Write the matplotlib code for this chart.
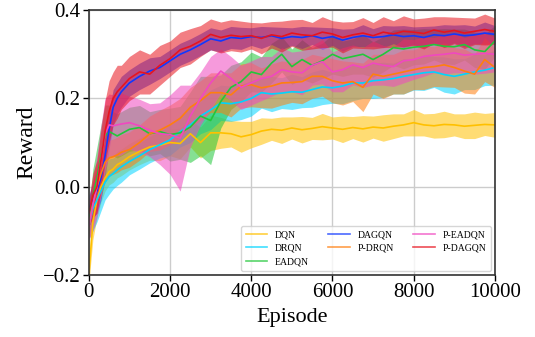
import numpy as np
import matplotlib
matplotlib.use('Agg')
import matplotlib.pyplot as plt

plt.rcParams['font.family'] = ['Liberation Serif', 'DejaVu Serif']
plt.rcParams['mathtext.fontset'] = 'stix'

# episodios donde se leyeron los valores
episodes = [0, 100, 200, 300, 400, 500, 600, 700, 800,
            1000, 1250, 1500, 1750, 2000, 2250, 2500, 2750, 3000, 3250,
            3500, 3750, 4000, 4250, 4500, 4750, 5000, 5250, 5500, 5750,
            6000, 6250, 6500, 6750, 7000, 7250, 7500, 7750, 8000, 8250,
            8500, 8750, 9000, 9250, 9500, 9750, 10000]

# recompensa media de cada metodo
dqn = [-0.2, -0.08, -0.03, 0.0, 0.02, 0.034, 0.04, 0.05, 0.055,
       0.068, 0.08, 0.09, 0.094, 0.1, 0.098, 0.12, 0.1, 0.122, 0.122,
       0.12, 0.113, 0.118, 0.126, 0.13, 0.128, 0.133, 0.129, 0.132, 0.136,
       0.133, 0.13, 0.134, 0.131, 0.135, 0.133, 0.137, 0.14, 0.145, 0.14,
       0.138, 0.141, 0.14, 0.137, 0.139, 0.141, 0.14]
drqn = [-0.09, -0.05, -0.03, -0.01, 0.01, 0.023, 0.03, 0.038, 0.045,
        0.057, 0.07, 0.084, 0.095, 0.106, 0.125, 0.14, 0.16, 0.174, 0.19,
        0.188, 0.192, 0.2, 0.213, 0.21, 0.212, 0.215, 0.214, 0.22, 0.226,
        0.224, 0.228, 0.235, 0.235, 0.24, 0.242, 0.245, 0.25, 0.254, 0.258,
        0.26, 0.254, 0.25, 0.255, 0.26, 0.264, 0.27]
eadqn = [-0.08, -0.02, 0.02, 0.07, 0.115, 0.125, 0.12, 0.115, 0.12,
         0.13, 0.134, 0.12, 0.125, 0.118, 0.122, 0.135, 0.16, 0.15, 0.193,
         0.225, 0.238, 0.26, 0.254, 0.28, 0.3, 0.272, 0.288, 0.275, 0.285,
         0.3, 0.29, 0.295, 0.3, 0.288, 0.3, 0.315, 0.312, 0.316, 0.318,
         0.322, 0.318, 0.317, 0.322, 0.31, 0.306, 0.33]
dagqn = [-0.05, -0.03, -0.01, 0.02, 0.07, 0.13, 0.18, 0.2, 0.215,
         0.235, 0.25, 0.262, 0.27, 0.285, 0.3, 0.31, 0.322, 0.335, 0.33,
         0.338, 0.336, 0.34, 0.338, 0.342, 0.336, 0.34, 0.338, 0.342, 0.336,
         0.34, 0.332, 0.338, 0.342, 0.338, 0.34, 0.344, 0.34, 0.342, 0.338,
         0.344, 0.342, 0.346, 0.342, 0.344, 0.348, 0.345]
p_drqn = [-0.09, -0.04, 0.0, 0.03, 0.055, 0.065, 0.068, 0.072, 0.078,
          0.084, 0.1, 0.12, 0.128, 0.14, 0.155, 0.18, 0.195, 0.213, 0.213,
          0.208, 0.228, 0.231, 0.224, 0.228, 0.235, 0.236, 0.238, 0.25, 0.25,
          0.24, 0.235, 0.238, 0.225, 0.255, 0.25, 0.255, 0.26, 0.265, 0.27,
          0.272, 0.276, 0.27, 0.262, 0.255, 0.288, 0.27]
p_eadqn = [-0.09, -0.04, 0.0, 0.06, 0.12, 0.14, 0.138, 0.14, 0.142,
           0.145, 0.138, 0.128, 0.12, 0.118, 0.11, 0.16, 0.2, 0.235, 0.262,
           0.245, 0.225, 0.235, 0.245, 0.25, 0.265, 0.26, 0.258, 0.275, 0.283,
           0.26, 0.265, 0.276, 0.27, 0.28, 0.275, 0.272, 0.285, 0.288, 0.295,
           0.298, 0.3, 0.303, 0.298, 0.3, 0.302, 0.3]
p_dagqn = [-0.06, -0.02, 0.0, 0.06, 0.125, 0.17, 0.2, 0.215, 0.225,
           0.245, 0.26, 0.255, 0.275, 0.29, 0.31, 0.318, 0.33, 0.345, 0.338,
           0.343, 0.34, 0.342, 0.336, 0.344, 0.34, 0.348, 0.344, 0.342, 0.35,
           0.346, 0.338, 0.344, 0.348, 0.342, 0.35, 0.346, 0.352, 0.35, 0.347,
           0.355, 0.35, 0.354, 0.348, 0.352, 0.356, 0.352]

# ancho de la banda sombreada (desviacion)
dqn_sd = [0.02, 0.04, 0.04, 0.035, 0.03, 0.03, 0.03, 0.03, 0.03,
          0.03, 0.03, 0.03, 0.035, 0.03, 0.035, 0.03, 0.035, 0.04, 0.035,
          0.03, 0.035, 0.03, 0.03, 0.025, 0.03, 0.025, 0.03, 0.025, 0.03,
          0.025, 0.03, 0.025, 0.03, 0.025, 0.03, 0.028, 0.025, 0.03, 0.025,
          0.028, 0.03, 0.025, 0.028, 0.03, 0.025, 0.028]
drqn_sd = [0.03, 0.05, 0.05, 0.045, 0.04, 0.04, 0.035, 0.035, 0.035,
           0.03, 0.03, 0.03, 0.03, 0.035, 0.035, 0.04, 0.04, 0.045, 0.04,
           0.04, 0.04, 0.04, 0.035, 0.04, 0.035, 0.04, 0.035, 0.04, 0.04,
           0.035, 0.04, 0.04, 0.035, 0.04, 0.04, 0.035, 0.04, 0.035, 0.04,
           0.035, 0.04, 0.04, 0.035, 0.04, 0.035, 0.04]
eadqn_sd = [0.03, 0.06, 0.07, 0.07, 0.07, 0.06, 0.05, 0.05, 0.05,
            0.05, 0.05, 0.05, 0.05, 0.06, 0.06, 0.08, 0.09, 0.1, 0.06,
            0.05, 0.045, 0.045, 0.04, 0.045, 0.04, 0.04, 0.045, 0.04, 0.04,
            0.045, 0.04, 0.04, 0.045, 0.04, 0.04, 0.04, 0.045, 0.04, 0.04,
            0.035, 0.04, 0.04, 0.035, 0.04, 0.04, 0.035]
dagqn_sd = [0.03, 0.04, 0.05, 0.05, 0.05, 0.045, 0.04, 0.035, 0.035,
            0.03, 0.03, 0.03, 0.025, 0.025, 0.025, 0.025, 0.025, 0.025, 0.025,
            0.025, 0.025, 0.02, 0.025, 0.02, 0.025, 0.02, 0.025, 0.02, 0.025,
            0.02, 0.025, 0.02, 0.025, 0.02, 0.025, 0.02, 0.025, 0.02, 0.025,
            0.02, 0.025, 0.02, 0.025, 0.02, 0.025, 0.02]
p_drqn_sd = [0.03, 0.05, 0.05, 0.05, 0.045, 0.04, 0.04, 0.04, 0.04,
             0.04, 0.04, 0.04, 0.045, 0.045, 0.045, 0.045, 0.045, 0.045, 0.045,
             0.05, 0.05, 0.05, 0.045, 0.05, 0.05, 0.045, 0.05, 0.05, 0.045,
             0.05, 0.05, 0.045, 0.055, 0.045, 0.05, 0.045, 0.05, 0.045, 0.05,
             0.045, 0.05, 0.045, 0.05, 0.045, 0.05, 0.045]
p_eadqn_sd = [0.03, 0.06, 0.07, 0.08, 0.08, 0.07, 0.07, 0.07, 0.07,
              0.06, 0.06, 0.06, 0.07, 0.09, 0.12, 0.07, 0.06, 0.06, 0.05,
              0.05, 0.05, 0.05, 0.05, 0.045, 0.05, 0.045, 0.05, 0.045, 0.05,
              0.045, 0.05, 0.045, 0.045, 0.05, 0.045, 0.045, 0.05, 0.045, 0.045,
              0.04, 0.045, 0.045, 0.04, 0.045, 0.045, 0.04]
p_dagqn_sd = [0.03, 0.05, 0.06, 0.07, 0.07, 0.07, 0.06, 0.06, 0.05,
              0.05, 0.05, 0.045, 0.045, 0.04, 0.04, 0.04, 0.035, 0.035, 0.035,
              0.035, 0.035, 0.03, 0.035, 0.03, 0.035, 0.03, 0.035, 0.03, 0.035,
              0.03, 0.035, 0.03, 0.035, 0.03, 0.035, 0.03, 0.035, 0.03, 0.035,
              0.03, 0.035, 0.03, 0.035, 0.03, 0.035, 0.03]

names = ['DQN', 'DRQN', 'EADQN', 'DAGQN', 'P-DRQN', 'P-EADQN', 'P-DAGQN']
means = [dqn, drqn, eadqn, dagqn, p_drqn, p_eadqn, p_dagqn]
sds = [dqn_sd, drqn_sd, eadqn_sd, dagqn_sd, p_drqn_sd, p_eadqn_sd, p_dagqn_sd]
colors = ['#FFC000', '#00D4FF', '#22C73A', '#1038FF', '#FF7F0E', '#F048C0', '#E8141E']

fig = plt.figure(figsize=(5.35, 3.37), dpi=100)
ax = fig.add_axes([0.166, 0.184, 0.759, 0.786])

x = np.array(episodes)
for name, m, s, c in zip(names, means, sds, colors):
    m = np.array(m)
    s = np.array(s)
    ax.fill_between(x, m - s, m + s, color=c, alpha=0.55, linewidth=0)
    ax.plot(x, m, color=c, linewidth=1.2, label=name)

ax.set_xlim(0, 10000)
ax.set_ylim(-0.2, 0.4)
ax.set_xticks([0, 2000, 4000, 6000, 8000, 10000])
ax.set_yticks([-0.2, 0.0, 0.2, 0.4])
ax.grid(True, color='#cccccc', linewidth=1.0)
ax.set_axisbelow(True)
for sp in ax.spines.values():
    sp.set_color('#333333')
    sp.set_linewidth(1.2)
ax.tick_params(labelsize=15, length=4, width=1, pad=2)
ax.set_xlabel('Episode', fontsize=16, labelpad=4)
ax.set_ylabel('Reward', fontsize=17, labelpad=4)

leg = ax.legend(loc='lower right', ncol=3, fontsize=7, frameon=True,
                handlelength=2.2, columnspacing=2.0, borderpad=0.5,
                labelspacing=0.45, borderaxespad=0.4)
for line in leg.get_lines():
    line.set_alpha(0.75)

plt.savefig('out.png', dpi=100)
